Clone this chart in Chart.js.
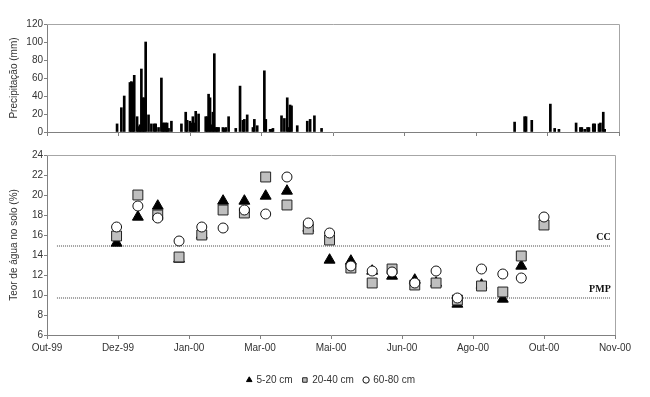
<!DOCTYPE html>
<html>
<head>
<meta charset="utf-8">
<script src="https://cdn.jsdelivr.net/npm/chart.js@4.4.0/dist/chart.umd.min.js"></script>
<style>
  body { margin: 0; background: #fff; }
  #wrap { position: relative; width: 650px; height: 397px; }
  canvas { position: absolute; left: 0; }
  #rain { top: 0; }
  #soil { top: 140px; }
</style>
</head>
<body>
<div id="wrap">
  <canvas id="rain" width="650" height="140"></canvas>
  <canvas id="soil" width="650" height="257"></canvas>
</div>
<script>
// x values are days counted from 17-Oct-1999 (left end of the axis), ticks every 50 days
const xTickLabels = ['Out-99', 'Dez-99', 'Jan-00', 'Mar-00', 'Mai-00', 'Jun-00', 'Ago-00', 'Out-00', 'Nov-00'];

// daily rainfall (mm)
const rainDays = [49, 52, 54, 58, 59, 60, 61, 63, 64, 65, 66, 67, 68, 69, 71, 73, 75, 76, 78, 80,
  81, 82, 83, 84, 85, 87, 94, 97, 98, 100, 101, 102, 103, 104, 106, 111, 112, 113, 114, 115,
  116, 117, 118, 119, 120, 123, 124, 125, 127, 132, 135, 137, 138, 140, 144, 145, 147, 152, 153, 156,
  157, 158, 164, 166, 168, 169, 170, 171, 175, 182, 184, 187, 192,
  327, 334, 335, 339, 352, 355, 358, 370, 373, 374, 376, 378, 379, 382, 383, 386, 387, 389, 390];
const rainMm = [9, 27, 40, 55, 56, 55, 63, 17, 6, 8, 70, 38, 38, 100, 19, 9, 9, 9, 5, 60,
  10, 10, 10, 10, 4, 12, 9, 22, 13, 12, 10, 17, 10, 23, 20, 17, 17, 42, 38, 8,
  22, 87, 5, 5, 5, 5, 4, 5, 17, 4, 51, 13, 14, 19, 5, 14, 7, 68, 14, 3,
  3, 4, 18, 15, 38, 5, 30, 29, 7, 12, 14, 18, 4,
  11, 17, 17, 13, 31, 4, 3, 10, 5, 5, 3, 5, 5, 9, 9, 9, 10, 22, 3];

// soil water content (%) at each sampling date
const sampleDays = [49, 64, 78, 93, 109, 124, 139, 154, 169, 184, 199, 214, 229, 243, 259, 274, 289, 306, 321, 334, 350];
const depth5to20 = [15.2, 17.8, 18.9, 13.6, 16.0, 19.4, 19.4, 19.9, 20.4, 16.7, 13.5, 13.4, 12.4, 11.9, 11.5, 11.2, 9.1, 11.0, 9.6, 12.9, null];
const depth20to40 = [15.9, 20.0, 18.0, 13.8, 16.0, 18.5, 18.2, 21.8, 19.0, 16.6, 15.5, 12.7, 11.2, 12.6, 11.0, 11.2, 9.5, 10.9, 10.3, 13.9, 17.0];
const depth60to80 = [16.8, 18.9, 17.7, 15.4, 16.8, 16.7, 18.5, 18.1, 21.8, 17.2, 16.2, 12.9, 12.4, 12.3, 11.2, 12.4, 9.7, 12.6, 12.1, 11.7, 17.8];

// field capacity (CC) and wilting point (PMP)
const ccValue = 14.9;
const pmpValue = 9.7;
const refLineDays = [7, 397];

const font = { family: 'Liberation Sans', size: 10 };
const textColor = '#333';

function pts(xs, ys) {
  return xs.map((x, i) => ({ x: x, y: ys[i] })).filter(p => p.y !== null);
}

// gray box on the top and right sides of the plot
const frame = {
  id: 'frame',
  beforeDatasetsDraw(chart) {
    const { ctx, chartArea: a } = chart;
    ctx.save();
    ctx.strokeStyle = '#a6a6a6';
    ctx.lineWidth = 1;
    ctx.beginPath();
    ctx.moveTo(a.left, Math.round(a.top) + 0.5);
    ctx.lineTo(Math.round(a.right) + 0.5, Math.round(a.top) + 0.5);
    ctx.lineTo(Math.round(a.right) + 0.5, a.bottom);
    ctx.stroke();
    ctx.restore();
  }
};

const refLabels = {
  id: 'refLabels',
  afterDatasetsDraw(chart) {
    const { ctx, scales } = chart;
    const x = scales.x.getPixelForValue(refLineDays[1]);
    ctx.save();
    ctx.font = 'bold 10px "Liberation Serif"';
    ctx.fillStyle = '#111';
    ctx.textAlign = 'right';
    ctx.textBaseline = 'bottom';
    ctx.fillText('CC', x, scales.y.getPixelForValue(ccValue) - 4);
    ctx.fillText('PMP', x, scales.y.getPixelForValue(pmpValue) - 4);
    ctx.restore();
  }
};

function xAxis(showLabels, height) {
  return {
    type: 'linear',
    min: 0,
    max: 400,
    offset: false,
    grid: { display: true, drawOnChartArea: false, drawTicks: true, tickLength: 4, color: '#808080', offset: false },
    border: { display: true, color: '#808080' },
    ticks: {
      display: showLabels,
      stepSize: 50,
      font: font,
      color: textColor,
      padding: 3,
      maxRotation: 0,
      autoSkip: false,
      callback: v => xTickLabels[Math.round(v / 50)]
    },
    afterFit: s => { s.height = height; }
  };
}

function yAxis(min, max, step, title) {
  return {
    min: min,
    max: max,
    grid: { display: true, drawOnChartArea: false, drawTicks: true, tickLength: 3, color: '#808080' },
    border: { display: true, color: '#808080' },
    ticks: { stepSize: step, font: font, color: textColor, padding: 1 },
    title: { display: true, text: title, font: { family: 'Liberation Sans', size: 10 }, color: textColor, padding: { top: 8, bottom: 0 } },
    afterFit: s => { s.width = 47; }
  };
}

new Chart(document.getElementById('rain'), {
  type: 'bar',
  data: {
    datasets: [{
      label: 'Precipitação',
      data: pts(rainDays, rainMm),
      backgroundColor: '#000',
      barThickness: 2
    }]
  },
  options: {
    responsive: false,
    animation: false,
    layout: { padding: { left: 0, right: 31, top: 24, bottom: 3 } },
    plugins: { legend: { display: false }, tooltip: { enabled: false } },
    scales: {
      x: xAxis(false, 5),
      y: yAxis(0, 120, 20, 'Precipitação (mm)')
    }
  },
  plugins: [frame]
});

new Chart(document.getElementById('soil'), {
  type: 'scatter',
  data: {
    datasets: [
      {
        label: '5-20 cm',
        data: pts(sampleDays, depth5to20),
        pointStyle: 'triangle',
        pointRadius: 6.3,
        backgroundColor: '#000',
        borderColor: '#000',
        borderWidth: 1,
        order: 3
      },
      {
        label: '20-40 cm',
        data: pts(sampleDays, depth20to40),
        pointStyle: 'rect',
        pointRadius: 7,
        backgroundColor: '#bfbfbf',
        borderColor: '#222',
        borderWidth: 1,
        order: 2
      },
      {
        label: '60-80 cm',
        data: pts(sampleDays, depth60to80),
        pointStyle: 'circle',
        pointRadius: 5,
        backgroundColor: '#fff',
        borderColor: '#111',
        borderWidth: 1,
        order: 1
      },
      {
        label: 'CC',
        data: pts(refLineDays, [ccValue, ccValue]),
        showLine: true,
        pointRadius: 0,
        borderColor: '#444',
        borderWidth: 1,
        borderDash: [1, 1],
        order: 4
      },
      {
        label: 'PMP',
        data: pts(refLineDays, [pmpValue, pmpValue]),
        showLine: true,
        pointRadius: 0,
        borderColor: '#444',
        borderWidth: 1,
        borderDash: [1, 1],
        order: 4
      }
    ]
  },
  options: {
    responsive: false,
    animation: false,
    layout: { padding: { left: 0, right: 35, top: 15, bottom: 2 } },
    plugins: {
      tooltip: { enabled: false },
      legend: {
        position: 'bottom',
        fullSize: false,
        labels: {
          usePointStyle: true,
          boxWidth: 4.5,
          boxHeight: 4.5,
          padding: 10,
          font: font,
          color: textColor,
          filter: item => item.datasetIndex < 3,
          sort: (a, b) => a.datasetIndex - b.datasetIndex
        }
      }
    },
    scales: {
      x: xAxis(true, 30),
      y: yAxis(6, 24, 2, 'Teor de água no solo (%)')
    }
  },
  plugins: [frame, refLabels]
});
</script>
</body>
</html>
